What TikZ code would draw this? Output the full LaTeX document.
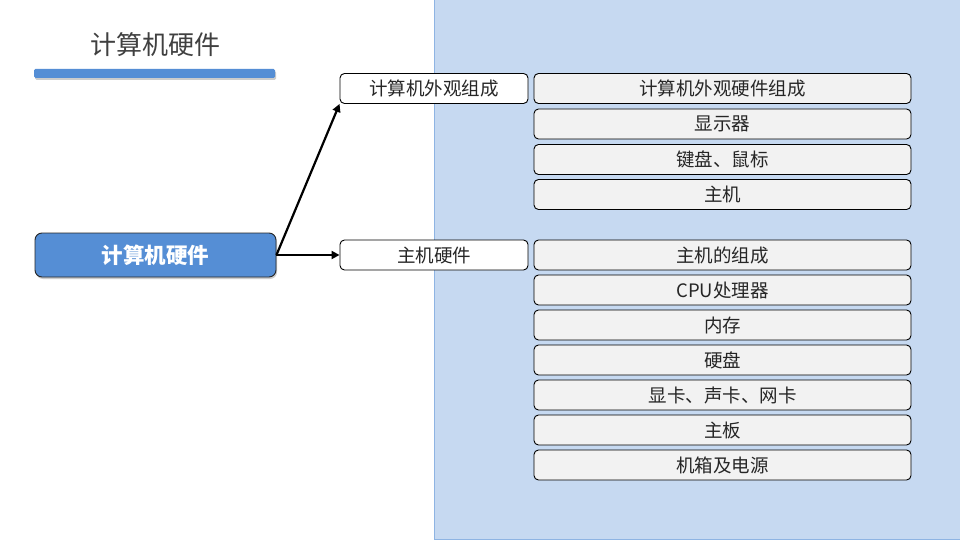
\documentclass[tikz,border=0pt]{standalone}
\usepackage{fontspec}
\setmainfont{Noto Sans CJK SC}
\usetikzlibrary{shadows,arrows.meta}
\definecolor{panel}{HTML}{C6D9F1}
\definecolor{panelline}{HTML}{8EB4E3}
\definecolor{mainblue}{HTML}{558ED5}
\definecolor{boxfill}{HTML}{F2F2F2}
\definecolor{titlegray}{HTML}{404040}
\tikzset{
  leafbox/.style={draw=black, fill=boxfill, rounded corners=4.5pt, minimum width=377pt, minimum height=30pt, inner sep=0pt, text=black!85, font=\fontsize{18.5}{20}\selectfont, line width=0.9pt},
  midbox/.style={draw=black, fill=white, rounded corners=4.5pt, minimum width=188pt, minimum height=30pt, inner sep=0pt, text=black!85, font=\fontsize{18.5}{20}\selectfont, line width=0.9pt},
  conn/.style={line width=2.2pt, -{Triangle[length=8pt,width=8pt]}}
}
\begin{document}
\begin{tikzpicture}[x=1pt,y=-1pt]
\useasboundingbox (0,0) rectangle (960,540);
\fill[white] (0,0) rectangle (960,540);
\draw[fill=panel, draw=panelline] (434.5,-1) rectangle (961,539.5);
\node[text=titlegray, font=\fontsize{26}{28}\selectfont] (title) at (155,45) {计算机硬件};
\fill[mainblue, rounded corners=1.5pt, drop shadow={opacity=0.4, shadow xshift=1pt, shadow yshift=-2pt}] (34,69) rectangle (275,78);
\node[draw=black!85, line width=0.9pt, fill=mainblue, rounded corners=7pt, minimum width=241pt, minimum height=44pt, inner sep=0pt, text=white, font=\fontsize{21.5}{24}\selectfont\bfseries, drop shadow={opacity=0.4, shadow xshift=1pt, shadow yshift=-2pt}] (root) at (155.5,255) {计算机硬件};
\node[midbox] (m1) at (434,88.5) {计算机外观组成};
\node[midbox] (m2) at (434,255) {主机硬件};
\node[leafbox] (a1) at (722.5,88.5) {计算机外观硬件组成};
\node[leafbox] (a2) at (722.5,124) {显示器};
\node[leafbox] (a3) at (722.5,159.5) {键盘、鼠标};
\node[leafbox] (a4) at (722.5,194.5) {主机};
\node[leafbox] (b1) at (722.5,255) {主机的组成};
\node[leafbox] (b2) at (722.5,290) {CPU处理器};
\node[leafbox] (b3) at (722.5,325) {内存};
\node[leafbox] (b4) at (722.5,360) {硬盘};
\node[leafbox] (b5) at (722.5,395) {显卡、声卡、网卡};
\node[leafbox] (b6) at (722.5,430) {主板};
\node[leafbox] (b7) at (722.5,465) {机箱及电源};
\draw[conn] (root.east) -- (m1.south west);
\draw[conn] (root.east) -- (m2.west);
\end{tikzpicture}
\end{document}
